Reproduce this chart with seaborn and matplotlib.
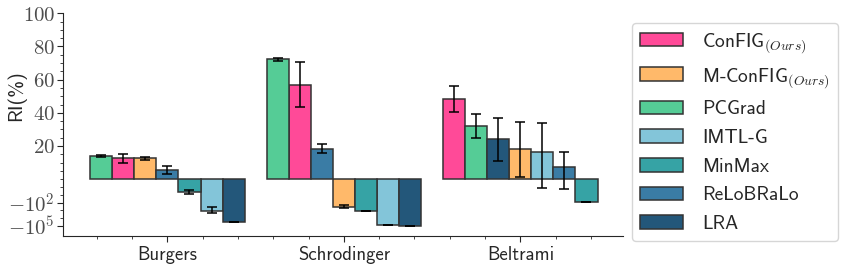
import numpy as np
import pandas as pd
import matplotlib
matplotlib.use("Agg")
import matplotlib.pyplot as plt
import seaborn as sns
from matplotlib.ticker import FixedLocator, FixedFormatter, AutoMinorLocator

# ---------- Data (RI in %, bars in plotted order per problem) ----------
problems = ["Burgers", "Schrodinger", "Beltrami"]

burgers_methods = ["PCGrad", "ConFIG", "M-ConFIG", "ReLoBRaLo", "MinMax", "IMTL-G", "LRA"]
burgers_ri = [13.8, 12.6, 12.6, 5.4, -4.8, -1300, -34000]
burgers_err = [0.5, 2.7, 0.8, 2.4, 2.5, 900, 2000]

schrodinger_methods = ["PCGrad", "ConFIG", "ReLoBRaLo", "M-ConFIG", "MinMax", "IMTL-G", "LRA"]
schrodinger_ri = [72.3, 57.0, 18.4, -363, -1300, -74000, -110000]
schrodinger_err = [1.0, 13.6, 2.8, 170, 60, 4000, 3000]

beltrami_methods = ["ConFIG", "PCGrad", "LRA", "M-ConFIG", "IMTL-G", "ReLoBRaLo", "MinMax"]
beltrami_ri = [48.3, 31.9, 24.0, 18.0, 16.2, 7.4, -91]
beltrami_err = [8.0, 7.3, 13.1, 16.5, 17.5, 9.0, 3.0]

legend_order = ["ConFIG", "M-ConFIG", "PCGrad", "IMTL-G", "MinMax", "ReLoBRaLo", "LRA"]
legend_labels = {
    "ConFIG": r"ConFIG$_{(Ours)}$",
    "M-ConFIG": r"M-ConFIG$_{(Ours)}$",
}
colors = {
    "ConFIG": "#FF4A98",
    "M-ConFIG": "#FFB96A",
    "PCGrad": "#55CC96",
    "IMTL-G": "#83C5D9",
    "MinMax": "#36A3A5",
    "ReLoBRaLo": "#3A7CA5",
    "LRA": "#23577A",
}

yticks = [-1e5, -1e2, 20, 40, 60, 80, 100]
yticklabels = [r"$-10^{5}$", r"$-10^{2}$", r"$20$", r"$40$", r"$60$", r"$80$", r"$100$"]

# ---------- Long-form table ----------
BAR_W = 0.125
rows = []
for g, (meths, vals, errs) in enumerate([
    (burgers_methods, burgers_ri, burgers_err),
    (schrodinger_methods, schrodinger_ri, schrodinger_err),
    (beltrami_methods, beltrami_ri, beltrami_err),
]):
    for i, (m, v, e) in enumerate(zip(meths, vals, errs)):
        rows.append({"pos": g + (i - 3) * BAR_W, "method": m, "ri": v, "err": e})
df = pd.DataFrame(rows)

# ---------- Y scale: linear above zero, log decades below ----------
C = 4.7


def fwd(y):
    y = np.asarray(y, dtype=float)
    a = np.abs(y)
    neg = np.where(a >= 1, -C * (1 + np.log10(np.maximum(a, 1))), C * y)
    return np.where(y >= 0, y, neg)


def inv(t):
    t = np.asarray(t, dtype=float)
    d = -t / C
    neg = np.where(d >= 1, -10 ** (np.clip(d, 1, 300) - 1), -d)
    return np.where(t >= 0, t, neg)


# ---------- Style ----------
sns.set_style("ticks")
plt.rcParams["font.family"] = ["cmss10", "DejaVu Sans"]
plt.rcParams["mathtext.fontset"] = "cm"
plt.rcParams["axes.unicode_minus"] = False

fig, ax = plt.subplots(figsize=(8.42, 2.66), dpi=100)
fig.subplots_adjust(left=0.0752, right=0.7395, bottom=0.114, top=0.95)

sns.barplot(
    data=df, x="pos", y="ri", hue="method", hue_order=legend_order,
    palette=colors, saturation=1, native_scale=True, dodge=False, width=1.0,
    errorbar=None, edgecolor="0.2", linewidth=1.1, ax=ax,
)
ax.errorbar(df["pos"], df["ri"], yerr=df["err"], fmt="none", ecolor="black",
            elinewidth=1.1, capsize=3.5, capthick=1.1, zorder=5)

ax.set_yscale("function", functions=(fwd, inv))
ax.set_ylim(-1.78e6, 100)
ax.set_xlim(-0.59, 2.58)

ax.yaxis.set_major_locator(FixedLocator(yticks))
ax.yaxis.set_major_formatter(FixedFormatter(yticklabels))
minor_y = [-1e4, -1e3, -10, -1] + [v for v in range(0, 100, 5) if v % 20 != 0] + [0]
ax.yaxis.set_minor_locator(FixedLocator(sorted(minor_y)))

ax.set_xticks(range(len(problems)))
ax.set_xticklabels(problems)
ax.xaxis.set_minor_locator(AutoMinorLocator(5))

ax.tick_params(axis="y", which="major", labelsize=15, labelcolor="0.3", length=4, pad=2)
ax.tick_params(axis="x", which="major", labelsize=13.5, length=4)
ax.tick_params(which="minor", length=2)
ax.set_xlabel("")
ax.set_ylabel("RI(%)", fontsize=14.5)
ax.yaxis.set_label_coords(-0.066, 0.63)
sns.despine(ax=ax)

handles, labels = ax.get_legend_handles_labels()
hmap = dict(zip(labels, handles))
ax.legend([hmap[m] for m in legend_order],
          [legend_labels.get(m, m) for m in legend_order],
          loc="center left", bbox_to_anchor=(1.0, 0.466), fontsize=14,
          handlelength=2.2, handletextpad=1.0, labelspacing=0.55)

fig.savefig("out.png", dpi=100)
